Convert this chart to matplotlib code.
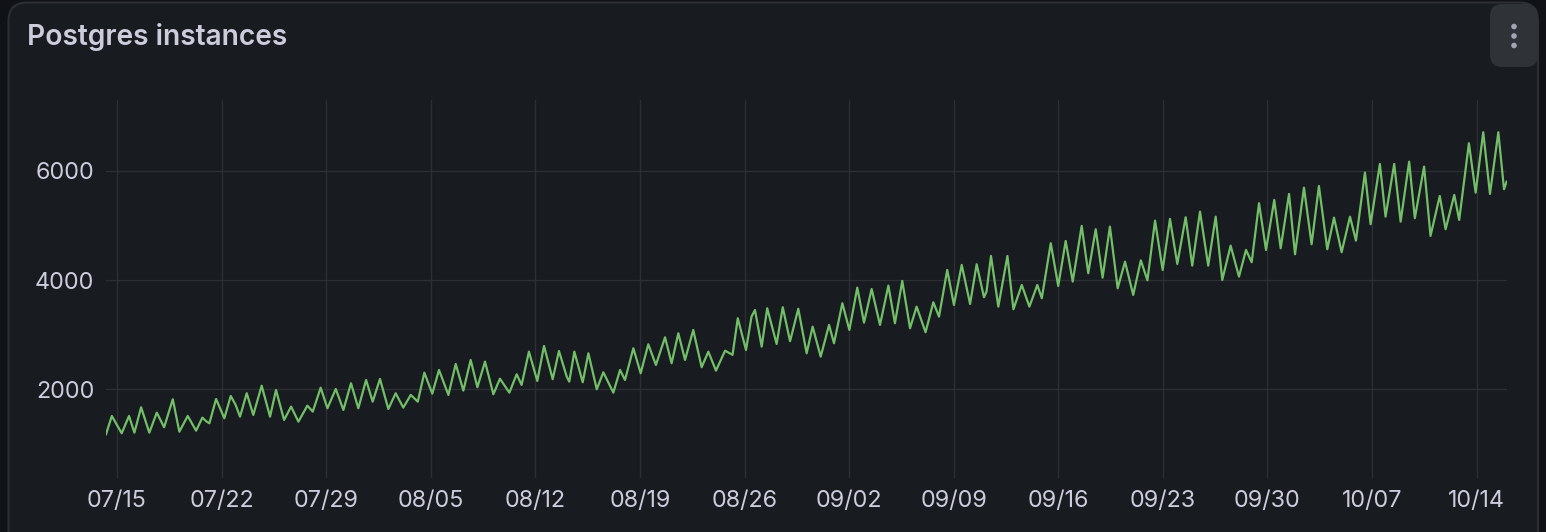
import matplotlib
matplotlib.use("Agg")
import matplotlib.pyplot as plt
from matplotlib.patches import FancyBboxPatch, Ellipse
import datetime as dt

# ---------------- data ----------------
title = "Postgres instances"
start_date = "2024-07-15"
# sample times, in days after start_date 00:00
day_offsets = [
    -0.74, -0.35, 0.31, 0.80, 1.16, 1.61, 2.16, 2.66, 3.15, 3.73, 4.17, 4.73,
    5.29, 5.71, 6.00, 6.18, 6.63, 7.18, 7.61, 7.94, 8.23, 8.68, 9.12, 9.68,
    10.24, 10.64, 11.18, 11.65, 12.14, 12.74, 13.10, 13.63, 14.08, 14.64,
    15.15, 15.66, 16.15, 16.67, 17.11, 17.60, 18.16, 18.65, 19.16, 19.66,
    20.13, 20.57, 21.10, 21.55, 22.18, 22.67, 23.18, 23.67, 24.12, 24.63,
    25.19, 25.63, 26.26, 26.75, 27.08, 27.57, 28.13, 28.58, 29.16, 29.58,
    30.10, 30.27, 30.61, 31.17, 31.55, 32.11, 32.55, 33.22, 33.67, 34.00,
    34.56, 35.05, 35.56, 36.07, 36.68, 37.12, 37.57, 38.02, 38.57, 39.13,
    39.58, 40.09, 40.70, 41.20, 41.55, 42.10, 42.47, 42.70, 43.15, 43.52,
    44.15, 44.56, 45.05, 45.60, 46.16, 46.56, 47.10, 47.66, 47.99, 48.55,
    49.02, 49.55, 50.00, 50.51, 51.07, 51.63, 52.07, 52.56, 53.08, 53.52,
    54.12, 54.64, 55.02, 55.57, 56.02, 56.54, 57.10, 57.54, 58.03, 58.20,
    58.50, 58.99, 59.60, 60.00, 60.56, 61.07, 61.60, 61.90, 62.50, 63.00,
    63.50, 63.97, 64.57, 65.01, 65.51, 65.97, 66.46, 66.98, 67.47, 68.02,
    68.53, 68.97, 69.48, 69.99, 70.48, 70.97, 71.53, 71.97, 72.49, 73.04,
    73.54, 73.98, 74.54, 75.10, 75.57, 75.95, 76.44, 76.91, 77.46, 77.89,
    78.45, 78.85, 79.45, 79.96, 80.45, 81.01, 81.46, 81.97, 82.53, 82.93,
    83.53, 83.91, 84.53, 84.91, 85.49, 85.92, 86.49, 86.87, 87.49, 87.92,
    88.54, 88.93, 89.51, 89.84, 90.49, 90.94, 91.45, 91.90, 92.46, 92.84,
    93.02,
]
instances = [
    1176, 1511, 1194, 1511, 1205, 1670, 1205, 1572, 1304, 1817, 1223, 1511,
    1242, 1480, 1407, 1377, 1822, 1469, 1877, 1712, 1498, 1927, 1530, 2066,
    1498, 1987, 1438, 1682, 1407, 1700, 1590, 2029, 1652, 2005,
    1621, 2110, 1652, 2170, 1773, 2189, 1639, 1927, 1663, 1896,
    1773, 2304, 1920, 2354, 1896, 2463, 1975, 2537, 2037, 2506,
    1908, 2194, 1938, 2275, 2079, 2689, 2152, 2793, 2183, 2701,
    2231, 2139, 2689, 2128, 2659, 2000, 2311, 1938, 2354, 2170,
    2751, 2293, 2824, 2445, 2952, 2476, 3026, 2537, 3086, 2403,
    2689, 2341, 2707, 2630, 3300, 2720, 3330, 3452, 2781, 3483,
    2830, 3502, 2880, 3475, 2659, 3147, 2597, 3178, 2842, 3575,
    3086, 3861, 3220, 3837, 3178, 3898, 3209, 3984, 3117, 3513,
    3044, 3593, 3330, 4185, 3544, 4277, 3562, 4289, 3685, 3788,
    4441, 3513, 4441, 3465, 3910, 3513, 3910, 3667, 4674, 3892,
    4716, 3971, 4991, 4125, 4930, 4044, 4979, 3850, 4337, 3727,
    4360, 3995, 5088, 4185, 5119, 4295, 5150, 4264, 5253, 4264,
    5161, 4002, 4630, 4062, 4551, 4326, 5407, 4551, 5467, 4582,
    5577, 4472, 5692, 4655, 5723, 4564, 5143, 4509, 5161, 4722,
    5968, 5022, 6126, 5161, 6126, 5070, 6168, 5132, 6077, 4808,
    5540, 4930, 5559, 5101, 6505, 5601, 6707, 5577, 6707, 5663,
    5802,
]
y_ticks = [2000, 4000, 6000]
x_tick_labels = ["07/15", "07/22", "07/29", "08/05", "08/12", "08/19", "08/26",
                 "09/02", "09/09", "09/16", "09/23", "09/30", "10/07", "10/14"]

# ---------------- styling ----------------
W, H = 1546, 532
DPI = 100
outer_bg = "#111217"
panel_bg = "#181b1f"
panel_border = "#2b2e33"
grid_col = "#2c2f34"
text_col = "#ccccdc"
line_col = "#73bf69"
FONT = ["Inter", "DejaVu Sans"]
plt.rcParams["font.family"] = FONT

fig = plt.figure(figsize=(W / DPI, H / DPI), dpi=DPI, facecolor=outer_bg)

def fx(px):
    return px / W

def fy(py):
    return 1 - py / H

# panel
panel = FancyBboxPatch((fx(8.5), fy(560)), fx(1538) - fx(8.5), fy(2.5) - fy(560),
                       boxstyle="round,pad=0,rounding_size=0.012",
                       transform=fig.transFigure, facecolor=panel_bg,
                       edgecolor=panel_border, linewidth=1.5, zorder=-3,
                       mutation_aspect=W / H)
fig.patches.append(panel)

# menu button
btn = FancyBboxPatch((fx(1490), fy(67)), fx(1538) - fx(1490), fy(4) - fy(67),
                     boxstyle="round,pad=0,rounding_size=0.008",
                     transform=fig.transFigure, facecolor="#2f3237",
                     edgecolor="none", zorder=-2, mutation_aspect=W / H)
fig.patches.append(btn)
for dy in (26.5, 36, 45.5):
    fig.patches.append(Ellipse((fx(1514), fy(dy)), 5.6 / W, 5.6 / H,
                               transform=fig.transFigure,
                               facecolor="#a3a5b0", edgecolor="none", zorder=-1))

fig.text(fx(27), fy(37), title, color=text_col, fontsize=20.3, fontweight="semibold",
         ha="left", va="center", family=FONT)

# axes
ax_left, ax_right, ax_top, ax_bottom = 106, 1507, 100, 478
ax = fig.add_axes([fx(ax_left), fy(ax_bottom), fx(ax_right) - fx(ax_left),
                   fy(ax_top) - fy(ax_bottom)])
ax.set_facecolor("none")
ax.set_zorder(2)

base = dt.datetime.strptime(start_date, "%Y-%m-%d")
times = [base + dt.timedelta(days=d) for d in day_offsets]
ax.plot(times, instances, color=line_col, linewidth=1.6, solid_joinstyle="round",
        zorder=3)

ax.set_xlim(base + dt.timedelta(days=-0.74), base + dt.timedelta(days=93.04))
ax.set_ylim(375, 7297)

tick_dates = [base + dt.timedelta(days=7 * i) for i in range(len(x_tick_labels))]
ax.set_xticks(tick_dates)
ax.set_xticklabels(x_tick_labels)
ax.set_yticks(y_ticks)
ax.set_yticklabels([str(v) for v in y_ticks])

ax.grid(True, color=grid_col, linewidth=1.0)
for s in ax.spines.values():
    s.set_visible(False)
ax.tick_params(axis="both", length=0, colors=text_col, labelsize=16.8)
ax.tick_params(axis="x", pad=8.5)
ax.tick_params(axis="y", pad=8.5)
for lab in ax.get_xticklabels() + ax.get_yticklabels():
    lab.set_color(text_col)

fig.savefig("out.png", dpi=DPI, facecolor=outer_bg)
